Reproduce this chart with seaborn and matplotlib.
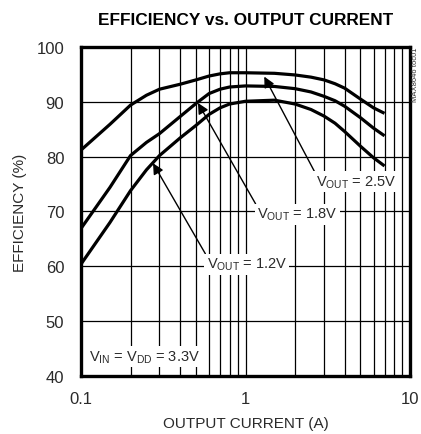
import numpy as np
import pandas as pd
import matplotlib
matplotlib.use("Agg")
import matplotlib.pyplot as plt
import seaborn as sns
from matplotlib.ticker import LogLocator, FixedLocator, NullFormatter

# ---- data ----
current = [0.1, 0.15, 0.2, 0.25, 0.3, 0.4, 0.5, 0.6, 0.7, 0.8, 1.0, 1.5, 2.0, 2.5, 3.0, 3.5, 4.0, 5.0, 6.0, 7.0]
eff_25 = [81.2, 85.9, 89.4, 91.2, 92.3, 93.2, 94.0, 94.7, 95.1, 95.3, 95.3, 95.2, 94.9, 94.5, 94.0, 93.3, 92.5, 90.5, 88.9, 87.9]
eff_18 = [66.9, 74.4, 80.2, 82.6, 84.2, 87.3, 89.7, 91.5, 92.3, 92.7, 92.9, 92.8, 92.4, 91.8, 91.0, 90.2, 89.2, 87.1, 85.2, 83.8]
eff_12 = [60.4, 68.0, 73.8, 77.6, 80.2, 83.4, 85.7, 87.7, 88.9, 89.6, 90.1, 90.3, 89.6, 88.6, 87.4, 86.1, 84.6, 81.9, 79.8, 78.3]
series_names = ["2.5V", "1.8V", "1.2V"]
y_ticks = [40, 50, 60, 70, 80, 90, 100]
x_tick_labels = ["0.1", "1", "10"]

df = pd.concat([
    pd.DataFrame({"current": current, "eff": e, "vout": n})
    for e, n in zip([eff_25, eff_18, eff_12], series_names)
])

sns.set_style("white")
FAM = ["Liberation Sans Narrow", "Liberation Sans", "DejaVu Sans"]
plt.rcParams["font.family"] = FAM
plt.rcParams["mathtext.default"] = "regular"

fig = plt.figure(figsize=(4.21, 4.35), dpi=100)
ax = fig.add_axes([0.1924, 0.1333, 0.7815, 0.7564])

sns.lineplot(data=df, x="current", y="eff", hue="vout", units="vout",
             estimator=None, palette=["black"] * 3, linewidth=2.3,
             legend=False, ax=ax, zorder=3)
for ln in ax.lines:
    ln.set_solid_joinstyle("round")
    ln.set_solid_capstyle("butt")

ax.set_xscale("log")
ax.set_xlim(0.1, 10)
ax.set_ylim(40, 100)
ax.xaxis.set_major_locator(FixedLocator([0.1, 1, 10]))
ax.set_xticklabels(x_tick_labels)
ax.xaxis.set_minor_locator(LogLocator(base=10, subs=np.arange(2, 10)))
ax.xaxis.set_minor_formatter(NullFormatter())
ax.set_yticks(y_ticks)
ax.set_yticklabels([str(v) for v in y_ticks])
ax.grid(True, which="both", axis="x", color="black", lw=0.9)
ax.grid(True, which="major", axis="y", color="black", lw=0.9)
ax.tick_params(axis="both", which="both", length=0, labelsize=12, colors="#2a2a2a")
ax.tick_params(axis="x", pad=11)
ax.tick_params(axis="y", pad=12)
for s in ax.spines.values():
    s.set_visible(True)
    s.set_color("black")
    s.set_linewidth(2.4)
    s.set_zorder(5)

ax.set_xlabel("OUTPUT CURRENT (A)", fontsize=11, color="#2a2a2a", labelpad=7)
ax.set_ylabel("EFFICIENCY (%)", fontsize=11, color="#2a2a2a", labelpad=7)
fig.text(0.583, 0.954, "EFFICIENCY vs. OUTPUT CURRENT", ha="center", va="center",
         fontsize=12.4, fontweight="bold", color="black", family=FAM)

box = dict(boxstyle="square,pad=0.15", fc="white", ec="none")
arrow = dict(arrowstyle="-|>", color="black", lw=1.0, mutation_scale=16,
             relpos=(0.0, 1.0), shrinkA=0, shrinkB=0)
lab_fs = 10.5
ax.annotate("$V_{OUT}$ = 2.5V", xy=(1.3, 94.6), xytext=(4.69, 75.4),
            ha="center", va="center", fontsize=lab_fs, color="#2a2a2a",
            bbox=box, arrowprops=arrow, zorder=6)
ax.annotate("$V_{OUT}$ = 1.8V", xy=(0.514, 89.8), xytext=(2.06, 69.5),
            ha="center", va="center", fontsize=lab_fs, color="#2a2a2a",
            bbox=box, arrowprops=arrow, zorder=6)
ax.annotate("$V_{OUT}$ = 1.2V", xy=(0.274, 78.8), xytext=(1.02, 60.4),
            ha="center", va="center", fontsize=lab_fs, color="#2a2a2a",
            bbox=box, arrowprops=arrow, zorder=6)
ax.text(0.2415, 43.5, "$V_{IN}$ = $V_{DD}$ = 3.3V", ha="center", va="center",
        fontsize=lab_fs, color="#2a2a2a", bbox=box, zorder=6)

fig.text(0.986, 0.89, "MAX8646 toc01", rotation=90, ha="center", va="top",
         fontsize=5.5, color="#333333")

fig.savefig("out.png", dpi=100)
